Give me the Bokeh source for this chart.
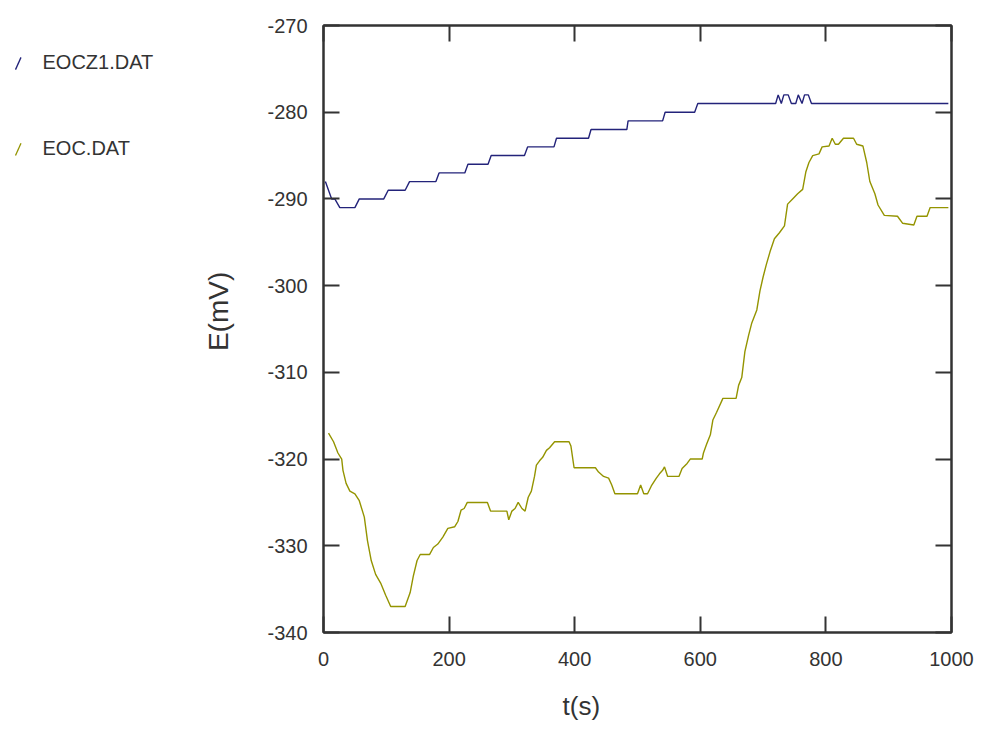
import math
from bokeh.plotting import figure
from bokeh.layouts import row
from bokeh.models import (LinearAxis, FixedTicker, Range1d, Title,
                          CustomLabelingPolicy)
from bokeh.core.properties import value
from bokeh.embed import file_html
from bokeh.resources import INLINE

# ---------------- data ----------------
series_names = ["EOCZ1.DAT", "EOC.DAT"]

t_eocz1 = [3, 8, 13, 18, 26, 50, 57, 96, 103, 130, 137, 179, 184, 225, 230, 262,
           267, 320, 325, 367, 371, 422, 426, 483, 485, 540, 544, 591, 596, 720,
           724, 729, 733, 740, 745, 752, 756, 762, 766, 772, 777, 995]
e_eocz1 = [-288, -289, -290, -290, -291, -291, -290, -290, -289, -289, -288, -288,
           -287, -287, -286, -286, -285, -285, -284, -284, -283, -283, -282, -282,
           -281, -281, -280, -280, -279, -279, -278, -279, -278, -278, -279, -279,
           -278, -279, -278, -278, -279, -279]

t_eoc = [8, 16, 23, 29, 31, 36, 42, 50, 57, 65, 70, 76, 83, 91, 99, 107, 130, 138,
         143, 149, 154, 169, 175, 182, 190, 198, 209, 214, 219, 224, 229, 261, 266,
         292, 295, 300, 305, 310, 316, 321, 326, 331, 336, 339, 344, 349, 355, 360,
         368, 391, 394, 399, 433, 438, 446, 454, 459, 464, 500, 505, 510, 516, 522,
         530, 535, 540, 543, 548, 566, 571, 579, 584, 603, 605, 610, 616, 620, 626,
         636, 657, 661, 666, 671, 677, 682, 690, 695, 700, 705, 711, 718, 726, 734,
         739, 747, 755, 763, 768, 773, 779, 789, 794, 805, 810, 815, 820, 828, 844,
         849, 859, 865, 870, 878, 883, 893, 914, 922, 940, 945, 961, 966, 995]
e_eoc = [-317, -318, -319.3, -320, -321.3, -322.8, -323.7, -324, -324.8, -326.7,
         -329.4, -331.7, -333.3, -334.3, -335.7, -337, -337, -335.4, -333.5, -331.7,
         -331, -331, -330.2, -329.8, -329, -328, -327.8, -327.2, -325.9, -325.7,
         -325, -325, -326, -326, -327, -326, -325.7, -325, -325.7, -326, -324.4,
         -323.7, -322, -320.7, -320.2, -319.8, -319, -318.7, -318, -318, -318.5,
         -321, -321, -321.5, -322, -322.2, -323, -324, -324, -323, -324, -324,
         -323.1, -322.2, -321.7, -321.3, -320.9, -322, -322, -321.1, -320.5, -320,
         -320, -319.3, -318.3, -317.2, -315.5, -314.6, -313, -313, -311.5, -310.6,
         -307.6, -305.7, -304.3, -302.8, -300.6, -299, -297.6, -296.1, -294.6,
         -293.9, -293.1, -290.6, -290, -289.4, -288.9, -286.9, -285.8, -285, -284.8,
         -284, -283.9, -283, -283.7, -283.7, -283, -283, -283.7, -283.9, -285.8,
         -288, -289.4, -290.7, -291.9, -292, -292.8, -293, -292, -292, -291, -291]

x_ticks = [0, 200, 400, 600, 800, 1000]
x_tick_labels = ["0", "200", "400", "600", "800", "1000"]
y_ticks = [-340, -330, -320, -310, -300, -290, -280, -270]
y_tick_labels = ["-340", "-330", "-320", "-310", "-300", "-290", "-280", "-270"]
x_label = "t(s)"
y_label = "E(mV)"

# ---------------- styling / layout ----------------
FONT = "Liberation Sans"
TXT = "#333333"
AX = "#333333"
BLUE = "#23237a"
OLIVE = "#949400"
COLORS = [BLUE, OLIVE]

TOTAL_W, TOTAL_H = 979, 743
SPLIT = 250                               # x where the main figure starts
FRAME_L, FRAME_R, FRAME_T, FRAME_B = 323, 960, 25, 655

# ---- left strip: legend + y axis title (pixel coordinates) ----
left = figure(width=SPLIT, height=TOTAL_H, output_backend="svg",
              toolbar_location=None, x_range=Range1d(0, SPLIT),
              y_range=Range1d(TOTAL_H, 0), min_border=0,
              x_axis_type=None, y_axis_type=None)
left.grid.visible = False
left.outline_line_color = None
left.background_fill_color = "white"
left.border_fill_color = "white"

leg_x_text = [42, 42]
leg_y = [45, 150]
for i, (name, col) in enumerate(zip(series_names, COLORS)):
    left.segment(x0=[15], y0=[leg_y[i] + 9], x1=[20.5], y1=[leg_y[i] - 6],
                 line_color=col, line_width=1.3)
    left.text(x=[leg_x_text[i]], y=[leg_y[i]], text=[name],
              text_font=value(FONT), text_font_size=value("20px"),
              text_color=TXT, text_align="left", text_baseline="middle")

left.text(x=[218], y=[350], text=[y_label], angle=math.pi / 2,
          text_font=value(FONT), text_font_size=value("28px"),
          text_color=TXT, text_align="center", text_baseline="middle")

# ---- main plot ----
W = TOTAL_W - SPLIT
p = figure(width=W, height=TOTAL_H, output_backend="svg", toolbar_location=None,
           x_range=Range1d(x_ticks[0], x_ticks[-1]),
           y_range=Range1d(y_ticks[0], y_ticks[-1]),
           min_border_left=FRAME_L - SPLIT, min_border_top=FRAME_T,
           min_border_right=TOTAL_W - FRAME_R,
           min_border_bottom=TOTAL_H - FRAME_B)
p.background_fill_color = "white"
p.border_fill_color = "white"
p.grid.visible = False
p.outline_line_color = AX
p.outline_line_width = 2

for ax, ticks, labels, st in ((p.xaxis[0], x_ticks, x_tick_labels, 19),
                              (p.yaxis[0], y_ticks, y_tick_labels, 16)):
    ax.ticker = FixedTicker(ticks=ticks)
    ax.major_label_overrides = {t: s for t, s in zip(ticks, labels)}
    ax.major_tick_in = 16
    ax.major_tick_out = 0
    ax.minor_tick_line_color = None
    ax.major_tick_line_color = AX
    ax.major_tick_line_width = 2
    ax.axis_line_color = AX
    ax.axis_line_width = 2
    ax.major_label_text_font = FONT
    ax.major_label_text_font_size = "20px"
    ax.major_label_text_color = TXT
    ax.major_label_standoff = st

# mirrored inward ticks on top and right, no labels
for loc, ticks in (("above", x_ticks), ("right", y_ticks)):
    ax = LinearAxis(ticker=FixedTicker(ticks=ticks))
    ax.major_label_policy = CustomLabelingPolicy(code="return []")
    ax.major_tick_in = 16
    ax.major_tick_out = 0
    ax.minor_tick_line_color = None
    ax.major_tick_line_color = AX
    ax.major_tick_line_width = 2
    ax.axis_line_color = AX
    ax.axis_line_width = 2
    ax.major_label_standoff = 0
    p.add_layout(ax, loc)

p.line(t_eocz1, e_eocz1, line_color=COLORS[0], line_width=1.4)
p.line(t_eoc, e_eoc, line_color=COLORS[1], line_width=1.4)

# x axis title, placed as in the reference (starts under the "400" label)
p.add_layout(Title(text=x_label, align="left", offset=567 - FRAME_L - 5,
                   vertical_align="middle", standoff=43,
                   text_font=FONT, text_font_size="26px",
                   text_font_style="normal", text_color=TXT), "below")

layout = row(left, p, spacing=0)
open("out.html", "w").write(file_html(layout, INLINE))
